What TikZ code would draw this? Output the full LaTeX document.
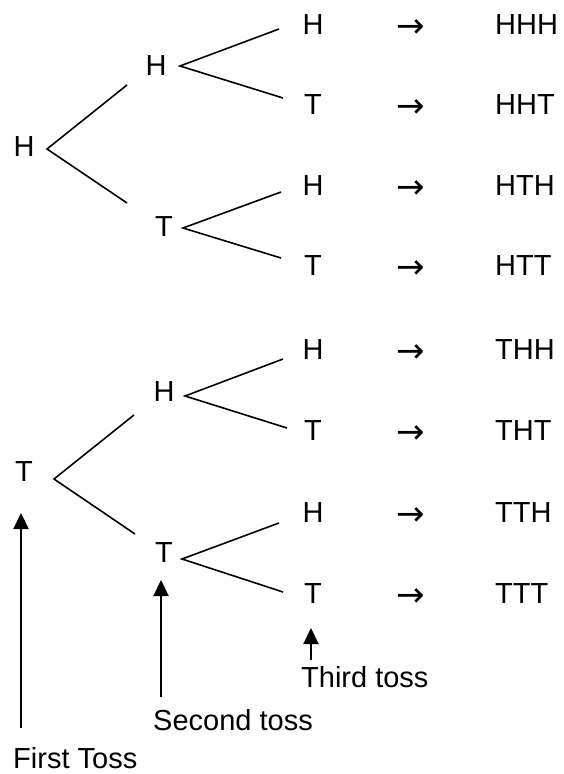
\documentclass[tikz,border=0pt]{standalone}
\usepackage{fontspec}
\setmainfont{Liberation Sans}
\newfontfamily\arrfont{DejaVu Sans}
\usetikzlibrary{calc,arrows.meta}
\begin{document}
\begin{tikzpicture}[x=1pt,y=-1pt,
  lbl/.style={inner sep=0pt,font=\fontsize{29}{34}\selectfont},
  res/.style={lbl,anchor=west},
  caption/.style={lbl,anchor=base west},
  arr/.style={inner sep=0pt,yshift=-4pt,font=\arrfont\fontsize{34}{40}\selectfont},
  branch/.style={line width=1.6pt},
  pointer/.style={line width=2.2pt,-{Triangle[width=15pt,length=16pt]}}]
\useasboundingbox (0,0) rectangle (563,774);
% first and second levels
\node[lbl] (r1) at (24,147) {H};
\node[lbl] (a1) at (156,66) {H};
\node[lbl] (a2) at (164,227) {T};
\node[lbl] (r2) at (24,472) {T};
\node[lbl] (b1) at (164,392) {H};
\node[lbl] (b2) at (164,553) {T};
% third level, arrows, outcomes
\foreach \i/\y/\c/\o in {1/25/H/HHH,2/105/T/HHT,3/186/H/HTH,4/266/T/HTT,5/350/H/THH,6/431/T/THT,7/513/H/TTH,8/594/T/TTT}{
  \node[lbl] (l\i) at (313,\y) {\c};
  \node[arr] (g\i) at (411,\y) {→};
  \node[res] (o\i) at (495,\y) {\o};
}
% branches
\draw[branch] ($(a1)+(-29,19)$) -- ($(r1)+(23,2)$) -- ($(a2)+(-37,-24)$);
\draw[branch] ($(l1)+(-34,4)$) -- ($(a1)+(24,0)$) -- ($(l2)+(-30,-7)$);
\draw[branch] ($(l3)+(-32,6)$) -- ($(a2)+(19,1)$) -- ($(l4)+(-32,-8)$);
\draw[branch] ($(b1)+(-30,23)$) -- ($(r2)+(30,7)$) -- ($(b2)+(-29,-19)$);
\draw[branch] ($(l5)+(-30,9)$) -- ($(b1)+(21,4)$) -- ($(l6)+(-26,-3)$);
\draw[branch] ($(l7)+(-34,10)$) -- ($(b2)+(18,6)$) -- ($(l8)+(-30,-2)$);
% captions
\node[caption] (f) at (13,768) {First Toss};
\node[caption] (s) at (153,730) {Second toss};
\node[caption] (t) at (301,687) {Third toss};
\draw[pointer] ($(f.base west)+(8,-40)$) -- ($(r2)+(-3,41)$);
\draw[pointer] ($(s.base west)+(8,-33)$) -- ($(b2)+(-3,27)$);
\draw[pointer] ($(t.base west)+(10,-27)$) -- ($(l8)+(-2,34)$);
\end{tikzpicture}
\end{document}
